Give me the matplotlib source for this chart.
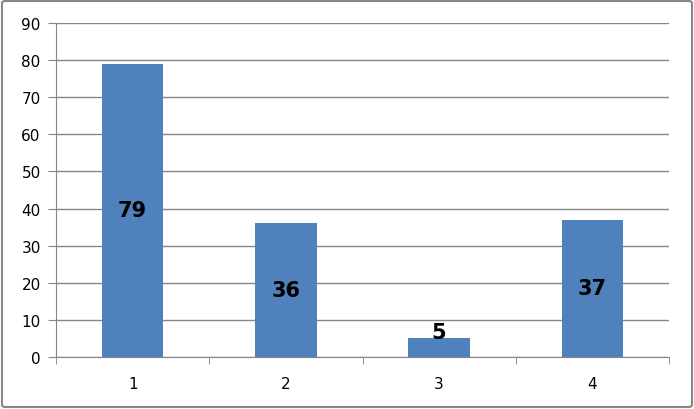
import matplotlib.pyplot as plt
from matplotlib.patches import FancyBboxPatch
import numpy as np

categories = ["1", "2", "3", "4"]
values = [79, 36, 5, 37]

plt.rcParams['font.family'] = ['DejaVu Sans']

fig = plt.figure(figsize=(6.94, 4.10), dpi=100)
ax = fig.add_axes([56/694, 52/410, 613/694, 334/410])

x = np.arange(len(categories))
ax.bar(x, values, width=0.4, color='#4f81bd', zorder=3)

ax.set_xlim(-0.5, len(categories) - 0.5)
ax.set_ylim(0, 90)
ax.set_yticks(range(0, 91, 10))
ax.set_xticks(x)
ax.set_xticklabels(categories)
ax.set_xticks(np.arange(-0.5, len(categories)), minor=True)
ax.tick_params(axis='x', which='major', length=0, pad=14, labelsize=11)
ax.tick_params(axis='x', which='minor', length=5, color='#868686', direction='out')
ax.tick_params(axis='y', length=6, color='#868686', pad=5, labelsize=11)
ax.yaxis.grid(True, color='#868686', linewidth=1)
ax.set_axisbelow(True)

for s in ['top', 'right']:
    ax.spines[s].set_visible(False)
ax.spines['left'].set_color('#868686')
ax.spines['bottom'].set_color('#868686')

for xi, v in zip(x, values):
    if v < 10:
        ax.text(xi, v, str(v), ha='center', va='baseline', fontsize=15,
                fontweight='bold', zorder=4)
    else:
        ax.text(xi, v / 2, str(v), ha='center', va='center', fontsize=15,
                fontweight='bold', zorder=4)

border = FancyBboxPatch((2/694, 2/410), 690/694, 406/410,
                        boxstyle='round,pad=0,rounding_size=0.005',
                        transform=fig.transFigure, facecolor='none',
                        edgecolor='#878787', linewidth=1.5)
fig.patches.append(border)

fig.savefig('out.png', dpi=100)
